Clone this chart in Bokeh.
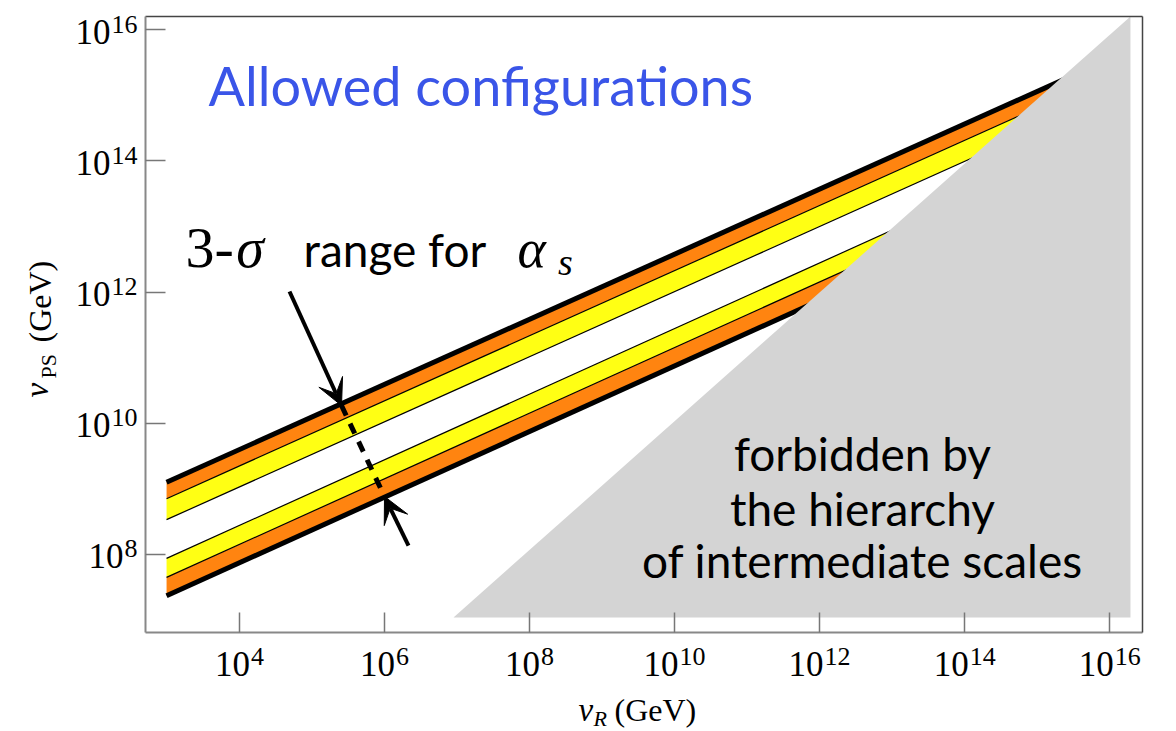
from bokeh.plotting import figure
from bokeh.models import (Range1d, FixedTicker, LabelSet, ColumnDataSource,
                          Arrow, VeeHead, LogAxis)
from bokeh.core.properties import value
from bokeh.embed import file_html
from bokeh.resources import INLINE

# ---- data -------------------------------------------------------------
# v_R range over which the alpha_s bands are drawn (GeV)
vR_ends = [1e3, 1e16]

# band edges: v_PS (GeV) at v_R = 1e3 and v_R = 1e16  (v_PS ~ v_R^(1/2))
upper_top = [10**9.10, 10**15.55]
upper_mid = [10**8.85, 10**15.30]
upper_low = [10**8.53, 10**14.98]
lower_top = [10**7.94, 10**14.44]
lower_mid = [10**7.65, 10**14.15]
lower_bot = [10**7.37, 10**13.87]

# region excluded by the ordering of intermediate scales
forbidden_vR = [10**6.958, 10**16.294, 10**16.294]
forbidden_vPS = [10**7.039, 10**7.039, 10**16.2]

# tick positions and labels
x_tick_exps = [4, 6, 8, 10, 12, 14, 16]
y_tick_exps = [8, 10, 12, 14, 16]

# ---- figure -----------------------------------------------------------
# plotted box (axes drawn at these limits)
X0, X1 = 10**2.71, 10**16.46
Y0, Y1 = 10**6.81, 10**16.2
# full canvas extent in data units, so tick labels and titles around the box stay visible
XL, XH = 10**0.710, 10**16.929
YL, YH = 10**5.301, 10**16.444

p = figure(width=1176, height=731, x_axis_type="log", y_axis_type="log",
           x_range=Range1d(XL, XH), y_range=Range1d(YL, YH),
           output_backend="svg", toolbar_location=None, min_border=0)
p.background_fill_color = "white"
p.border_fill_color = "white"
p.grid.visible = False
p.outline_line_color = None

p.xaxis.ticker = FixedTicker(ticks=[10.0**e for e in x_tick_exps], minor_ticks=[])
p.yaxis.ticker = FixedTicker(ticks=[10.0**e for e in y_tick_exps], minor_ticks=[])
p.xaxis.fixed_location = Y0
p.yaxis.fixed_location = X0
p.xaxis.bounds = (X0, X1)
p.yaxis.bounds = (Y0, Y1)
for ax in (p.xaxis, p.yaxis):
    ax.major_tick_in = 20
    ax.major_tick_out = 0
    ax.minor_tick_in = 0
    ax.minor_tick_out = 0
    ax.major_tick_line_color = "#777777"
    ax.major_tick_line_width = 1.5
    ax.axis_line_color = "#888888"
    ax.axis_line_width = 2
    ax.major_label_text_color = None
    ax.major_label_text_font_size = "10px"

# closing lines of the box: top and right
top_ax = LogAxis(fixed_location=Y1, bounds=(X0, X1),
                 ticker=FixedTicker(ticks=[], minor_ticks=[]))
right_ax = LogAxis(fixed_location=X1, bounds=(Y0, Y1),
                   ticker=FixedTicker(ticks=[], minor_ticks=[]))
for ax in (top_ax, right_ax):
    ax.axis_line_color = "#444444"
    ax.axis_line_width = 1.5
    ax.major_tick_line_color = None
    ax.minor_tick_line_color = None
    ax.major_label_text_color = None
p.add_layout(top_ax, "above")
p.add_layout(right_ax, "right")

ORANGE = "#ff8410"
YELLOW = "#ffff14"

# bands
p.varea(x=vR_ends, y1=upper_mid, y2=upper_top, fill_color=ORANGE)
p.varea(x=vR_ends, y1=upper_low, y2=upper_mid, fill_color=YELLOW)
p.varea(x=vR_ends, y1=lower_mid, y2=lower_top, fill_color=YELLOW)
p.varea(x=vR_ends, y1=lower_bot, y2=lower_mid, fill_color=ORANGE)
for edge in (upper_mid, upper_low, lower_top, lower_mid):
    p.line(vR_ends, edge, line_color="black", line_width=1.2)
for edge in (upper_top, lower_bot):
    p.line(vR_ends, edge, line_color="black", line_width=5)

# forbidden triangle
p.patch(forbidden_vR, forbidden_vPS, fill_color="#d4d4d4", line_color=None)

# ---- text helper ------------------------------------------------------
SANS = "Lato"
SERIF = "Liberation Serif"


def add_text(xs, ys, texts, font, size, style="normal", color="black", align="left",
             x_off=0, y_off=0, angle=0.0):
    src = ColumnDataSource(dict(x=list(xs), y=list(ys), text=list(texts),
                                xo=x_off if isinstance(x_off, list) else [x_off] * len(texts),
                                yo=y_off if isinstance(y_off, list) else [y_off] * len(texts)))
    p.add_layout(LabelSet(source=src, x="x", y="y", text="text", x_offset="xo", y_offset="yo",
                          angle=angle, text_font=value(font), text_font_size=f"{size}px",
                          text_font_style=style, text_color=color, text_align=align,
                          text_baseline="alphabetic"))


# ---- in-plot texts ----------------------------------------------------
add_text([10**3.579], [10**14.843], ["Allowed configurations"], SANS, 54, color="#3a55e8")

add_text([10**12.598] * 3, [10**9.279, 10**8.441, 10**7.648],
         ["forbidden by", "the hierarchy", "of intermediate scales"], SANS, 46, align="center")

# "3-sigma range for alpha_s"
add_text([10**3.262], [10**12.374], ["3-"], SERIF, 58)
add_text([10**3.960], [10**12.374], ["σ"], SERIF, 56, style="italic")
add_text([10**4.889], [10**12.374], ["range for"], SANS, 46)
add_text([10**7.840], [10**12.374], ["α"], SERIF, 54, style="italic")
add_text([10**8.400], [10**12.265], ["s"], SERIF, 38, style="italic")

# arrows marking the 3-sigma width
head = dict(size=26, fill_color="black", line_color="black")
p.add_layout(Arrow(x_start=10**4.696, y_start=10**12.008, x_end=10**5.413, y_end=10**10.270,
                   line_width=4, line_color="black", end=VeeHead(**head)))
p.add_layout(Arrow(x_start=10**6.337, y_start=10**8.136, x_end=10**6.006, y_end=10**8.883,
                   line_width=4, line_color="black", end=VeeHead(**head)))
p.segment(x0=[10**5.413], y0=[10**10.270], x1=[10**6.006], y1=[10**8.883],
          line_color="black", line_width=5, line_dash="11 9")

# ---- tick labels (10 with superscript exponent) -----------------------
BASE_PX, EXP_PX = 35, 26
xe = [str(e) for e in x_tick_exps]
seam = [BASE_PX / 2 - EXP_PX / 4 * len(s) for s in xe]
xticks = [10.0**e for e in x_tick_exps]
add_text(xticks, [Y0] * len(xe), ["10"] * len(xe), SERIF, BASE_PX, align="right",
         x_off=seam, y_off=-43)
add_text(xticks, [Y0] * len(xe), xe, SERIF, EXP_PX, align="left",
         x_off=[s + 1 for s in seam], y_off=-32)

ye = [str(e) for e in y_tick_exps]
yticks = [10.0**e for e in y_tick_exps]
add_text([X0] * len(ye), yticks, ["10"] * len(ye), SERIF, BASE_PX, align="right",
         x_off=[-9 - EXP_PX / 2 * len(s) for s in ye], y_off=-14)
add_text([X0] * len(ye), yticks, ye, SERIF, EXP_PX, align="right", x_off=-8, y_off=-3)

# ---- axis titles -------------------------------------------------------
add_text([X0], [Y0], ["v"], SERIF, 33, style="italic", x_off=433, y_off=-88)
add_text([X0], [Y0], ["R"], SERIF, 22, style="italic", x_off=448, y_off=-93)
add_text([X0], [Y0], ["(GeV)"], SERIF, 32, x_off=469, y_off=-88)

add_text([X0], [Y0], ["v"], SERIF, 33, style="italic", x_off=-98, y_off=235, angle=1.5707963)
add_text([X0], [Y0], ["PS"], SERIF, 22, x_off=-90, y_off=254, angle=1.5707963)
add_text([X0], [Y0], ["(GeV)"], SERIF, 32, x_off=-95, y_off=290, angle=1.5707963)

open("out.html", "w").write(file_html(p, INLINE))
